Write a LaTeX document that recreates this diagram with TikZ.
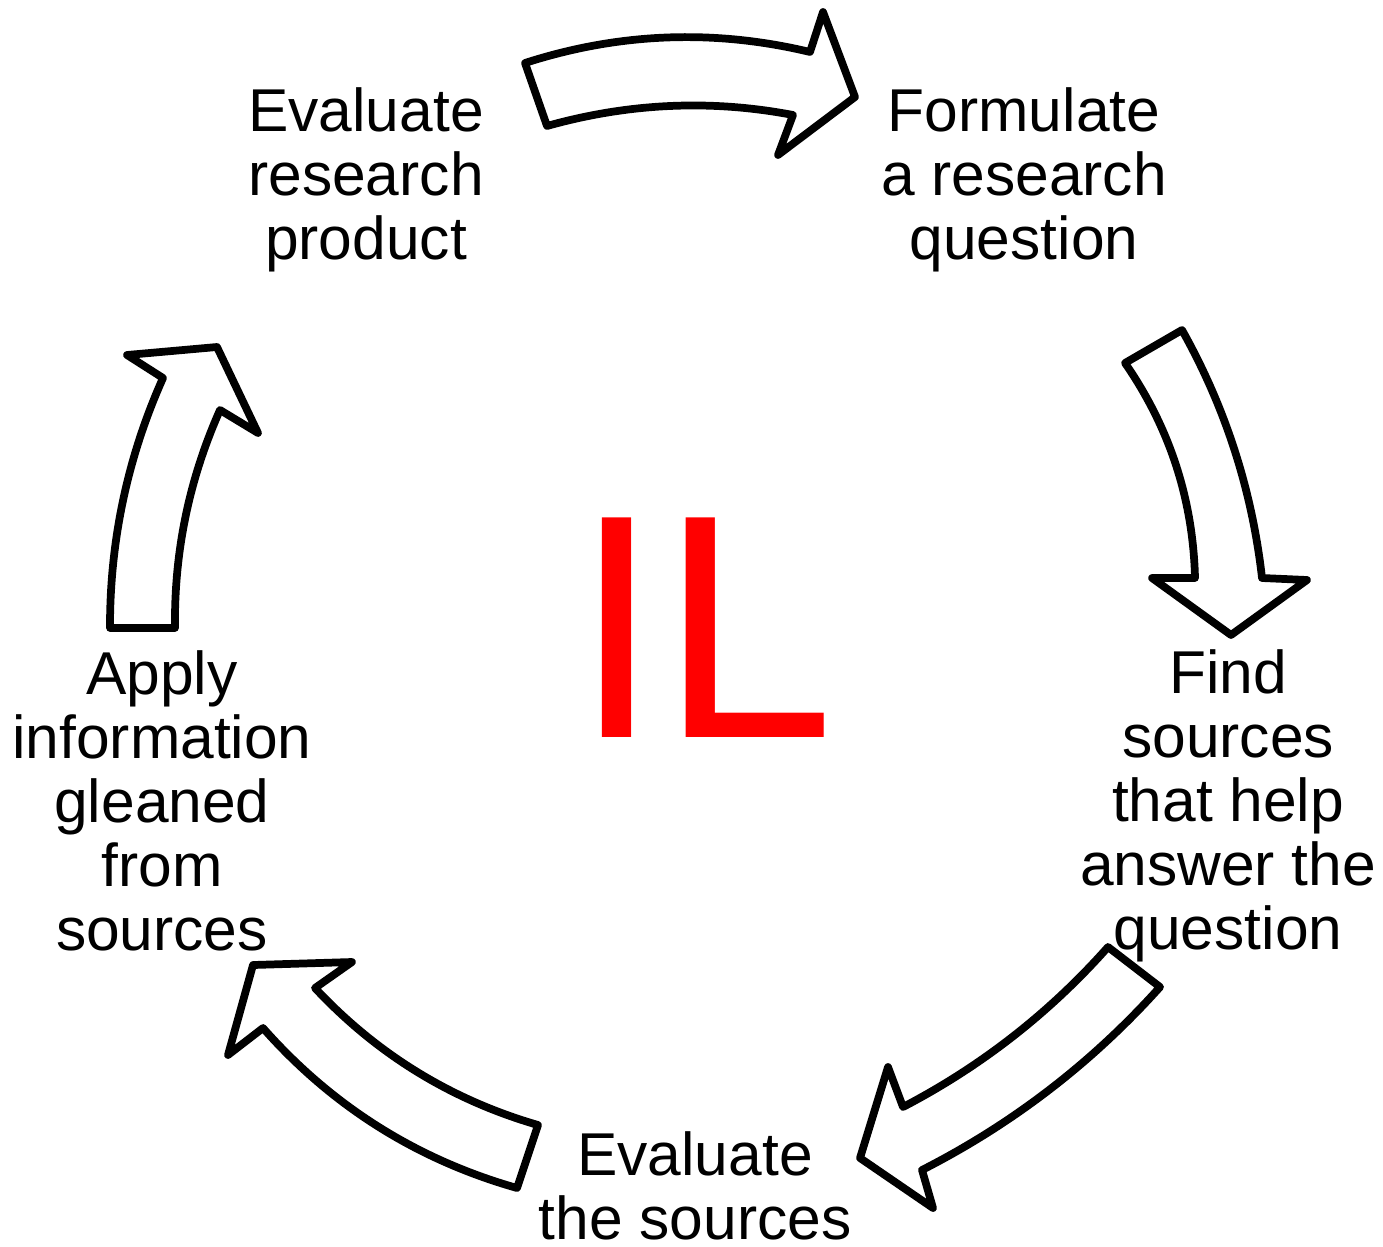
\documentclass[tikz,border=0pt]{standalone}
\usepackage{fontspec}
\setmainfont{Liberation Sans}
\usetikzlibrary{calc}
\begin{document}
\begin{tikzpicture}[x=0.01cm,y=-0.01cm,
  arr/.style={draw=black,fill=white,line width=2.2pt,line join=round},
  lbl/.style={align=center,inner sep=0pt,font=\fontsize{17.2}{18.2}\selectfont},
  big/.style={inner sep=0pt,text=red,font=\fontsize{89}{92}\selectfont}]
\useasboundingbox (0,0) rectangle (1383,1246);
% quadratic-style edge: from A via control Q to B
\def\qe(#1)(#2)(#3){.. controls ($(#1)!0.6667!(#2)$) and ($(#3)!0.6667!(#2)$) .. (#3)}
% arrow 1 (top)
\draw[arr] (525,63) .. controls ($(525,63)!0.6667!(666,17.5)$) and ($(810,52)!0.6667!(666,17.5)$) .. (810,52)
  -- (823,12) -- (855,97) -- (778,155) -- (793,115)
  .. controls ($(793,115)!0.6667!(670,91.5)$) and ($(547,126)!0.6667!(670,91.5)$) .. (547,126) -- cycle;
% arrow 2 (right)
\draw[arr] (1125,363) -- (1182,330)
  .. controls ($(1182,330)!0.6667!(1247,446)$) and ($(1262,578)!0.6667!(1247,446)$) .. (1262,578)
  -- (1307,580) -- (1231,635) -- (1152,578) -- (1195,578)
  .. controls ($(1195,578)!0.6667!(1192,460)$) and ($(1125,363)!0.6667!(1192,460)$) .. cycle;
% arrow 3 (bottom right)
\draw[arr] (1108,947) -- (1160,987)
  .. controls ($(1160,987)!0.6667!(1058,1100.7)$) and ($(922,1170)!0.6667!(1058,1100.7)$) .. (922,1170)
  -- (933,1208) -- (860,1158) -- (888,1067) -- (903,1107)
  .. controls ($(903,1107)!0.6667!(1020.3,1045.9)$) and ($(1108,947)!0.6667!(1020.3,1045.9)$) .. cycle;
% arrow 4 (bottom left)
\draw[arr] (538,1125) -- (517,1188)
  .. controls ($(517,1188)!0.6667!(366.5,1145.2)$) and ($(263,1028)!0.6667!(366.5,1145.2)$) .. (263,1028)
  -- (228,1055) -- (253,965) -- (352,962) -- (315,988)
  .. controls ($(315,988)!0.6667!(407.7,1087.2)$) and ($(538,1125)!0.6667!(407.7,1087.2)$) .. cycle;
% arrow 5 (left)
\draw[arr] (110,628) -- (175,628)
  .. controls ($(175,628)!0.6667!(173.6,514.1)$) and ($(220,410)!0.6667!(173.6,514.1)$) .. (220,410)
  -- (258,433) -- (217,347) -- (127,355) -- (163,378)
  .. controls ($(163,378)!0.6667!(109.7,497.3)$) and ($(110,628)!0.6667!(109.7,497.3)$) .. cycle;
% labels
\node[lbl] (erp) at (366,180) {Evaluate\\research\\product};
\node[lbl] (frq) at (1024,180) {Formulate\\a research\\question};
\node[lbl] (fs) at (1228,806) {Find\\sources\\that help\\answer the\\question};
\node[lbl] (es) at (695,1186) {Evaluate\\the sources};
\node[lbl] (ai) at (162,801) {Apply\\information\\gleaned\\from\\sources};
\node[big,anchor=base,yscale=1.02,transform shape] (il) at (704,737) {IL};
\end{tikzpicture}
\end{document}
